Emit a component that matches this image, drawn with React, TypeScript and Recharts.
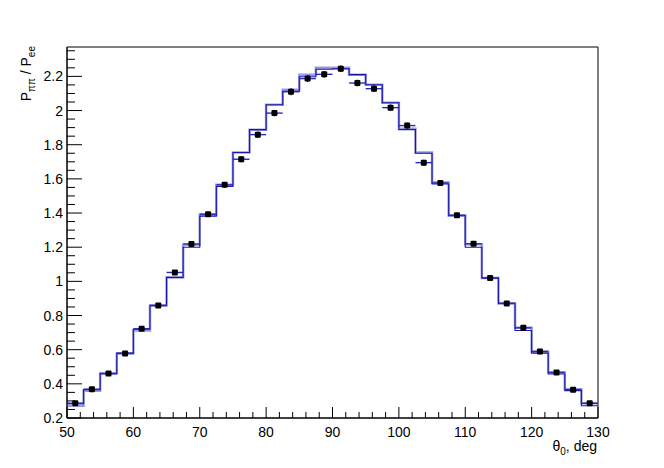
import React from "react"
import {
  ComposedChart,
  Line,
  Scatter,
  ErrorBar,
  XAxis,
  YAxis,
  ReferenceArea,
} from "recharts"

const binEdges = [
  50, 52.5, 55, 57.5, 60, 62.5, 65, 67.5, 70, 72.5, 75, 77.5, 80, 82.5, 85,
  87.5, 90, 92.5, 95, 97.5, 100, 102.5, 105, 107.5, 110, 112.5, 115, 117.5, 120,
  122.5, 125, 127.5, 130,
]

const binCenters = [
  51.25, 53.75, 56.25, 58.75, 61.25, 63.75, 66.25, 68.75, 71.25, 73.75, 76.25,
  78.75, 81.25, 83.75, 86.25, 88.75, 91.25, 93.75, 96.25, 98.75, 101.25, 103.75,
  106.25, 108.75, 111.25, 113.75, 116.25, 118.75, 121.25, 123.75, 126.25,
  128.75,
]

const measured = [
  0.287, 0.369, 0.46, 0.578, 0.723, 0.858, 1.052, 1.219, 1.393, 1.565, 1.715,
  1.859, 1.985, 2.11, 2.187, 2.212, 2.245, 2.161, 2.128, 2.017, 1.912, 1.695,
  1.576, 1.387, 1.22, 1.02, 0.871, 0.728, 0.59, 0.467, 0.366, 0.286,
]

const measuredErr = [
  0.008, 0.008, 0.009, 0.01, 0.011, 0.012, 0.013, 0.014, 0.015, 0.016, 0.017,
  0.018, 0.019, 0.02, 0.02, 0.02, 0.02, 0.02, 0.02, 0.019, 0.018, 0.017, 0.016,
  0.015, 0.014, 0.013, 0.012, 0.011, 0.01, 0.009, 0.008, 0.008,
]

const histDark = [
  0.284, 0.366, 0.46, 0.58, 0.72, 0.86, 1.023, 1.2, 1.382, 1.555, 1.754, 1.888,
  2.034, 2.112, 2.198, 2.242, 2.245, 2.21, 2.151, 2.046, 1.888, 1.75, 1.57,
  1.385, 1.2, 1.02, 0.871, 0.712, 0.58, 0.458, 0.36, 0.272,
]

const histLight = [
  0.272, 0.36, 0.462, 0.578, 0.712, 0.858, 1.023, 1.215, 1.392, 1.566, 1.754,
  1.888, 2.034, 2.122, 2.21, 2.25, 2.25, 2.21, 2.151, 2.046, 1.894, 1.754,
  1.578, 1.385, 1.217, 1.02, 0.871, 0.728, 0.588, 0.466, 0.368, 0.286,
]

const xMajorTicks = [50, 60, 70, 80, 90, 100, 110, 120, 130]
const yMajorTicks = [0.2, 0.4, 0.6, 0.8, 1, 1.2, 1.4, 1.6, 1.8, 2, 2.2]

const X_MIN = 50
const X_MAX = 130
const Y_MIN = 0.2
const Y_MAX = 2.372
const BIN_HALF = 1.25

const FONT = "'Liberation Sans', Arial, Helvetica, sans-serif"

// minor tick positions (x every 2, y every 0.05)
const xAllTicks: number[] = []
for (let v = X_MIN; v <= X_MAX + 1e-9; v += 2) xAllTicks.push(v)
xMajorTicks.forEach((v) => {
  if (!xAllTicks.includes(v)) xAllTicks.push(v)
})
xAllTicks.sort((a, b) => a - b)

const yAllTicks: number[] = []
for (let i = 0; Y_MIN + i * 0.05 <= Y_MAX; i++) {
  yAllTicks.push(Math.round((Y_MIN + i * 0.05) * 1000) / 1000)
}

function toSteps(values: number[]) {
  return binEdges.map((x, i) => ({
    x,
    y: values[Math.min(i, values.length - 1)],
  }))
}

const pointData = binCenters.map((x, i) => ({
  x,
  y: measured[i],
  xerr: BIN_HALF,
  yerr: measuredErr[i],
}))

function isMajor(v: number, majors: number[]) {
  return majors.some((m) => Math.abs(m - v) < 1e-6)
}

const PLOT_LEFT = 67
const PLOT_BOTTOM = 418

function XTick(props: any) {
  const { x, payload } = props
  const y = PLOT_BOTTOM
  const major = isMajor(payload.value, xMajorTicks)
  return (
    <g>
      <line x1={x} x2={x} y1={y} y2={y - (major ? 11 : 6)} stroke="#000" />
      {major && (
        <text
          x={x}
          y={y + 19}
          textAnchor="middle"
          fontSize={14}
          fontFamily={FONT}
          fill="#000"
        >
          {payload.value}
        </text>
      )}
    </g>
  )
}

function YTick(props: any) {
  const { y, payload } = props
  const x = PLOT_LEFT
  const major = isMajor(payload.value, yMajorTicks)
  return (
    <g>
      <line x1={x} x2={x + (major ? 15 : 8)} y1={y} y2={y} stroke="#000" />
      {major && (
        <text
          x={x - 4}
          y={y + 5}
          textAnchor="end"
          fontSize={14}
          fontFamily={FONT}
          fill="#000"
        >
          {payload.value}
        </text>
      )}
    </g>
  )
}

function PointShape(props: any) {
  const { cx, cy } = props
  if (cx == null || cy == null) return null
  return <rect x={cx - 3} y={cy - 3} width={6} height={6} rx={1} fill="#000" />
}

export default function App() {
  return (
    <div
      style={{
        position: "absolute",
        left: 0,
        top: 0,
        width: 664,
        height: 468,
        background: "#fff",
      }}
    >
      <ComposedChart
        width={664}
        height={468}
        margin={{ top: 47, right: 66, bottom: 10, left: 17 }}
      >
        <XAxis
          type="number"
          dataKey="x"
          domain={[X_MIN, X_MAX]}
          ticks={xAllTicks}
          interval={0}
          allowDataOverflow
          height={40}
          tickSize={0}
          tickMargin={0}
          tickLine={false}
          axisLine={{ stroke: "#000" }}
          tick={(p: any) => <XTick {...p} />}
        />
        <YAxis
          type="number"
          dataKey="y"
          domain={[Y_MIN, Y_MAX]}
          ticks={yAllTicks}
          interval={0}
          allowDataOverflow
          width={50}
          tickSize={0}
          tickMargin={0}
          tickLine={false}
          axisLine={{ stroke: "#000" }}
          tick={(p: any) => <YTick {...p} />}
        />
        <ReferenceArea
          x1={X_MIN}
          x2={X_MAX}
          y1={Y_MIN}
          y2={Y_MAX}
          fill="none"
          stroke="#000"
          strokeWidth={1}
          ifOverflow="visible"
        />
        <Line
          data={toSteps(histLight)}
          dataKey="y"
          type="stepAfter"
          stroke="rgba(100,100,210,0.65)"
          strokeWidth={2.5}
          dot={false}
          activeDot={false}
          isAnimationActive={false}
        />
        <Line
          data={toSteps(histDark)}
          dataKey="y"
          type="stepAfter"
          stroke="#1818a8"
          strokeWidth={1.1}
          dot={false}
          activeDot={false}
          isAnimationActive={false}
        />
        <Scatter
          data={pointData}
          dataKey="y"
          shape={(p: any) => <PointShape {...p} />}
          isAnimationActive={false}
        >
          <ErrorBar
            dataKey="xerr"
            direction="x"
            width={0}
            stroke="#2a2ab8"
            strokeWidth={1.4}
            isAnimationActive={false}
          />
          <ErrorBar
            dataKey="yerr"
            direction="y"
            width={0}
            stroke="#1a1a80"
            strokeWidth={1.4}
            isAnimationActive={false}
          />
        </Scatter>
      </ComposedChart>
      <svg
        width={664}
        height={468}
        style={{ position: "absolute", left: 0, top: 0, pointerEvents: "none" }}
      >
        <text
          x={597}
          y={451}
          textAnchor="end"
          fontSize={14}
          fontFamily={FONT}
          fill="#000"
        >
          θ
          <tspan fontSize={10} dy={4}>
            0
          </tspan>
          <tspan dy={-4}>, deg</tspan>
        </text>
        <text
          transform="rotate(-90 31 46)"
          x={31}
          y={46}
          textAnchor="end"
          fontSize={14}
          fontFamily={FONT}
          fill="#000"
        >
          P
          <tspan fontSize={10} dy={4}>
            ππ
          </tspan>
          <tspan dy={-4}> / P</tspan>
          <tspan fontSize={10} dy={4}>
            ee
          </tspan>
        </text>
      </svg>
    </div>
  )
}
